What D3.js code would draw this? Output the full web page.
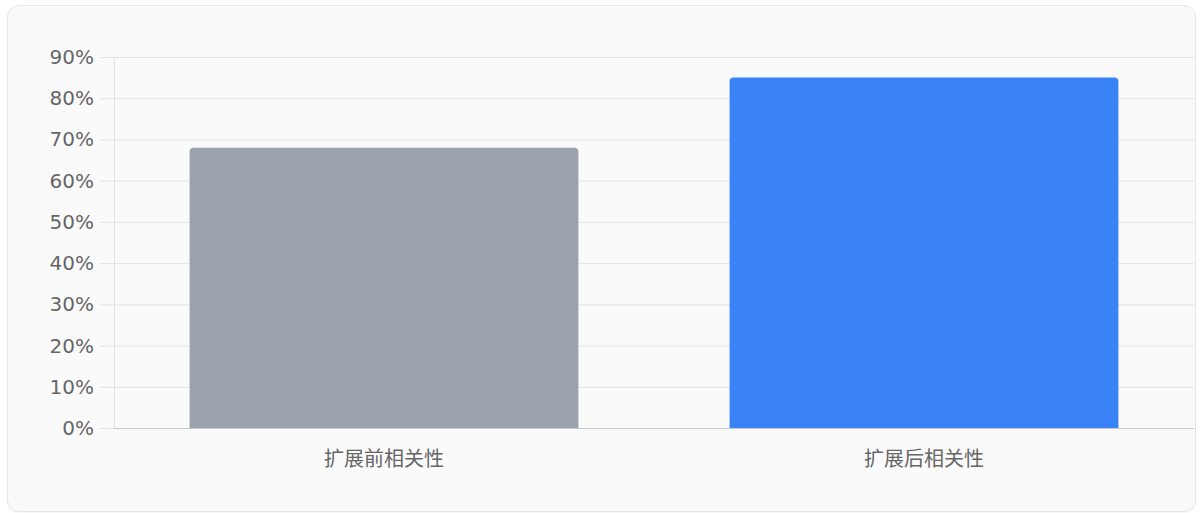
<!DOCTYPE html>
<html>
<head>
<meta charset="utf-8">
<script src="https://cdn.jsdelivr.net/npm/d3@7"></script>
<style>
  html, body { margin: 0; padding: 0; background: #ffffff; }
  #card {
    position: absolute; left: 7px; top: 5px; width: 1187px; height: 505px;
    background: #fafafa; border: 1px solid #e6e6e6; border-radius: 12px;
    box-shadow: 0 1px 2px rgba(0,0,0,0.04);
  }
  svg { position: absolute; left: 0; top: 0; }
  text { font-family: "DejaVu Sans", "Noto Sans CJK SC", sans-serif; }
</style>
</head>
<body>
<div id="card"></div>
<svg id="chart" width="1201" height="513"></svg>
<script>
const categories = ["扩展前相关性", "扩展后相关性"];
const values = [68, 85];
const barColors = ["#9ca1ae", "#3a83f6"];
const yTicks = [0, 10, 20, 30, 40, 50, 60, 70, 80, 90];

const margin = { left: 114, right: 1194, top: 57, bottom: 428 };

const svg = d3.select("#chart");

const x = d3.scaleBand()
    .domain(categories)
    .range([margin.left, margin.right])
    .paddingInner(0.28)
    .paddingOuter(0.14);

const y = d3.scaleLinear()
    .domain([0, 90])
    .range([margin.bottom, margin.top]);

// horizontal grid + left tick marks
svg.append("g")
    .selectAll("line")
    .data(yTicks.filter(d => d > 0))
    .join("line")
    .attr("x1", margin.left - 14)
    .attr("x2", margin.right)
    .attr("y1", d => y(d) + 0.5)
    .attr("y2", d => y(d) + 0.5)
    .attr("stroke", "#e2e2e2")
    .attr("stroke-width", 1);

// y axis line
svg.append("line")
    .attr("x1", margin.left + 0.5)
    .attr("x2", margin.left + 0.5)
    .attr("y1", margin.top)
    .attr("y2", margin.bottom)
    .attr("stroke", "#e2e2e2");

// bars with rounded top corners
function barPath(x0, y0, w, h, r) {
    return `M${x0},${y0 + h} L${x0},${y0 + r} Q${x0},${y0} ${x0 + r},${y0} ` +
        `L${x0 + w - r},${y0} Q${x0 + w},${y0} ${x0 + w},${y0 + r} L${x0 + w},${y0 + h} Z`;
}

svg.append("g")
    .selectAll("path")
    .data(categories)
    .join("path")
    .attr("d", (d, i) => barPath(x(d), y(values[i]), x.bandwidth(), y(0) - y(values[i]), 4))
    .attr("fill", (d, i) => barColors[i]);

// baseline at 0
svg.append("line")
    .attr("x1", margin.left - 14)
    .attr("x2", margin.right)
    .attr("y1", y(0) + 0.5)
    .attr("y2", y(0) + 0.5)
    .attr("stroke", "#e2e2e2");
svg.append("line")
    .attr("x1", margin.left)
    .attr("x2", margin.right)
    .attr("y1", y(0) + 0.5)
    .attr("y2", y(0) + 0.5)
    .attr("stroke", "#c8c8c8");

// y labels
svg.append("g")
    .selectAll("text")
    .data(yTicks)
    .join("text")
    .attr("x", margin.left - 20)
    .attr("y", d => y(d))
    .attr("dy", "0.35em")
    .attr("text-anchor", "end")
    .attr("font-size", "20px")
    .attr("fill", "#666666")
    .text(d => d + "%");

// x labels
svg.append("g")
    .selectAll("text")
    .data(categories)
    .join("text")
    .attr("x", d => x(d) + x.bandwidth() / 2)
    .attr("y", 459)
    .attr("dy", "0.35em")
    .attr("text-anchor", "middle")
    .attr("font-size", "20px")
    .attr("fill", "#666666")
    .text(d => d);
</script>
</body>
</html>
